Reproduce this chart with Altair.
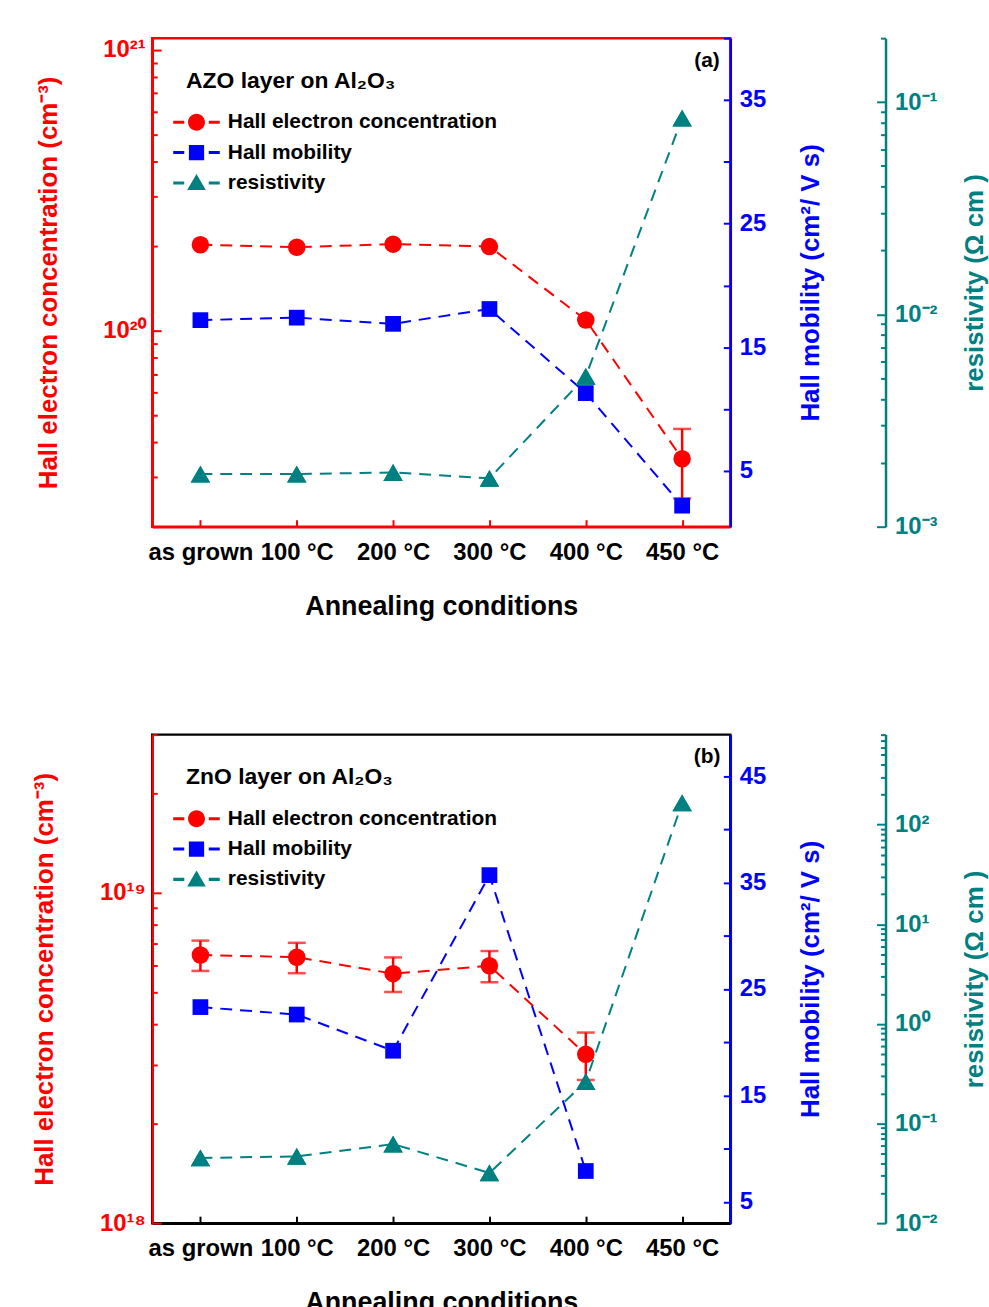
import math
import altair as alt
import pandas as pd

# ---------------- data ----------------
categories = ["as grown", "100 °C", "200 °C", "300 °C", "400 °C", "450 °C"]
series_names = ["Hall electron concentration", "Hall mobility", "resistivity"]

# panel (a): AZO layer on Al2O3
a_conc = [2.02e20, 1.98e20, 2.03e20, 1.99e20, 1.09e20, 3.49e19]
a_conc_err = [0.0, 0.0, 0.0, 0.0, 0.0, 0.97e19]
a_mob = [17.2, 17.4, 16.9, 18.1, 11.3, 2.2]
a_res = [1.77e-3, 1.77e-3, 1.80e-3, 1.69e-3, 5.1e-3, 8.4e-2]

# panel (b): ZnO layer on Al2O3
b_conc = [6.47e18, 6.37e18, 5.68e18, 6.00e18, 3.24e18, None]
b_conc_err = [0.68e18, 0.67e18, 0.68e18, 0.65e18, 0.53e18, None]
b_mob = [23.3, 22.6, 19.2, 35.7, 7.9, None]
b_res = [0.0451, 0.0468, 0.0622, 0.0319, 0.263, 165.0]

# axis ranges / tick labels
a_conc_domain, a_conc_decades = [2e19, 1.1e21], [19, 20, 21]
a_mob_domain, a_mob_ticks, a_mob_labels = [0.5, 40], [5, 10, 15, 20, 25, 30, 35, 40], [5, 15, 25, 35]
a_res_domain, a_res_decades = [1e-3, 0.2], [-3, -2, -1]

b_conc_domain, b_conc_decades = [1e18, 3e19], [18, 19]
b_mob_domain, b_mob_ticks, b_mob_labels = [3, 48.9], [5, 10, 15, 20, 25, 30, 35, 40, 45], [5, 15, 25, 35, 45]
b_res_domain, b_res_decades = [1e-2, 800], [-2, -1, 0, 1, 2]

# ---------------- style ----------------
RED, BLUE, TEAL = "#FF0000", "#0000FF", "#008080"
FONT = "Liberation Sans"
W, H = 581, 491
DASH = [12, 8]
SUP = str.maketrans("0123456789-", "⁰¹²³⁴⁵⁶⁷⁸⁹⁻")

# legend symbols: dash - marker - dash (units of marker radius)
LD = "M-2.75,-0.18H-1.45V0.18H-2.75Z M1.45,-0.18H2.75V0.18H1.45Z "
SYM_CIRCLE = LD + "M1,0A1,1 0 1,1 -1,0A1,1 0 1,1 1,0Z"
SYM_SQUARE = LD + "M-0.9,-0.9H0.9V0.9H-0.9Z"
SYM_TRI = LD + "M0,-1.05L1.1,0.85H-1.1Z"


def log_ticks(dom, decades):
    major, minor = [], []
    for e in decades:
        for m in range(1, 10):
            v = float(f"{m}e{e}")
            if dom[0] * 0.999999 <= v <= dom[1] * 1.000001:
                (major if m == 1 else minor).append(v)
    return major, minor


def pow_expr(values):
    expr = "''"
    for v in reversed(values):
        e = int(round(math.log10(v)))
        expr = f"datum.value == {repr(v)} ? '10{str(e).translate(SUP)}' : ({expr})"
    return expr


def main_axis(orient, color, title, values, label_expr=None, offset=0,
              label_padding=8, title_padding=10, label_size=24):
    args = dict(orient=orient, values=values, ticks=False, tickSize=0,
                domainColor=color, domainWidth=2.5, labelColor=color,
                titleColor=color, title=title, labelPadding=label_padding,
                titlePadding=title_padding, labelOverlap=False, grid=False,
                offset=offset, labelFontSize=label_size, titleFontSize=26,
                titleAngle=270)
    if label_expr:
        args["labelExpr"] = label_expr
    return alt.Axis(**args)


def tick_axis(orient, color, values, size, offset):
    return alt.Axis(orient=orient, values=values, domain=False, labels=False,
                    ticks=True, tickSize=size, tickWidth=2, tickColor=color,
                    offset=offset, title=None, grid=False)


def panel(tag, legend_title, conc, err, mob, res, conc_dom, conc_dec,
          mob_dom, mob_ticks, mob_labels, res_dom, res_dec, frame):
    df = pd.DataFrame({"cond": categories, "conc": conc, "err": err,
                       "mob": mob, "res": res})
    df["lo"] = df["conc"] - df["err"]
    df["hi"] = df["conc"] + df["err"]
    base = alt.Chart(df)
    xscale = alt.Scale(type="point", padding=0.5, domain=categories)

    x_main = alt.Axis(orient="bottom", title="Annealing conditions", labelAngle=0,
                      ticks=False, tickSize=0, domainColor=frame, domainWidth=2.5,
                      labelColor="black", labelFontSize=24, labelPadding=14,
                      titleFontSize=27, titleColor="black", titlePadding=29,
                      grid=False, labelOverlap=False)
    x_tick = tick_axis("bottom", frame, categories, 7, -7)

    def X(axis):
        return alt.X("cond:N", scale=xscale, axis=axis)

    # ---- red: concentration (left, log) ----
    c_major, c_minor = log_ticks(conc_dom, conc_dec)
    cs = alt.Scale(type="log", domain=conc_dom)
    red_line = base.mark_line(color=RED, strokeDash=DASH, strokeWidth=2).encode(
        x=X(x_main),
        y=alt.Y("conc:Q", scale=cs,
                axis=main_axis("left", RED, "Hall electron concentration (cm⁻³)",
                               c_major, pow_expr(c_major), label_padding=7,
                               title_padding=42)))
    red_rule = base.transform_filter("datum.err > 0").mark_rule(
        color=RED, strokeWidth=2.5).encode(
        x=X(None),
        y=alt.Y("lo:Q", scale=cs, axis=tick_axis("left", RED, c_minor, 5, -5)),
        y2="hi:Q")
    red_lo = base.transform_filter("datum.err > 0").mark_tick(
        color=RED, thickness=2.5, size=18).encode(
        x=X(None), y=alt.Y("lo:Q", scale=cs, axis=None))
    red_hi = base.transform_filter("datum.err > 0").mark_tick(
        color=RED, thickness=2.5, size=18).encode(
        x=X(None), y=alt.Y("hi:Q", scale=cs, axis=None))
    red_pts = base.mark_point(shape="circle", filled=True, size=310, color=RED,
                              opacity=1).encode(
        x=X(x_tick),
        y=alt.Y("conc:Q", scale=cs, axis=tick_axis("left", RED, c_major, 9, -9)))

    leg = alt.Legend(orient="none", legendX=34, legendY=32, title=legend_title,
                     padding=0, titlePadding=19, rowPadding=8.5, labelOffset=21,
                     titleFontSize=23, labelFontSize=21, titleColor="black",
                     labelColor="black", symbolSize=289, symbolOpacity=1,
                     symbolStrokeWidth=0, labelLimit=600, titleLimit=600)
    leg_df = pd.DataFrame({"series": series_names})
    legend_layer = alt.Chart(leg_df).transform_filter("false").mark_point(
        filled=True, size=289, opacity=1).encode(
        color=alt.Color("series:N", scale=alt.Scale(domain=series_names,
                                                    range=[RED, BLUE, TEAL]),
                        legend=leg),
        shape=alt.Shape("series:N", scale=alt.Scale(domain=series_names,
                                                    range=[SYM_CIRCLE, SYM_SQUARE, SYM_TRI]),
                        legend=leg))

    red_group = alt.layer(red_line, red_rule, red_lo, red_hi, red_pts,
                          legend_layer).resolve_axis(x="independent", y="independent")

    # ---- blue: mobility (right, linear) ----
    ms = alt.Scale(domain=mob_dom, nice=False, zero=False)
    blue_line = base.mark_line(color=BLUE, strokeDash=DASH, strokeWidth=2).encode(
        x=X(None),
        y=alt.Y("mob:Q", scale=ms,
                axis=main_axis("right", BLUE, "Hall mobility (cm²/ V s)",
                               mob_labels, label_padding=9, title_padding=58)))
    blue_pts = base.mark_point(shape="square", filled=True, size=250, color=BLUE,
                               opacity=1).encode(
        x=X(None),
        y=alt.Y("mob:Q", scale=ms, axis=tick_axis("right", BLUE, mob_ticks, 7, -7)))
    tag_df = pd.DataFrame({"cond": ["450 °C"], "tag": [tag]})
    tag_layer = alt.Chart(tag_df).mark_text(
        font=FONT, fontWeight="bold", fontSize=21, color="black", dx=25,
        align="center", baseline="middle").encode(
        x=X(None), y=alt.value(23), text="tag:N")
    blue_group = alt.layer(blue_line, blue_pts, tag_layer).resolve_axis(y="independent")

    # ---- teal: resistivity (right, offset, log) ----
    r_major, r_minor = log_ticks(res_dom, res_dec)
    rs = alt.Scale(type="log", domain=res_dom)
    teal_line = base.mark_line(color=TEAL, strokeDash=DASH, strokeWidth=2).encode(
        x=X(None),
        y=alt.Y("res:Q", scale=rs,
                axis=main_axis("right", TEAL, "resistivity (Ω cm )", r_major,
                               pow_expr(r_major), offset=156, label_padding=9,
                               title_padding=51)))
    teal_pts = base.mark_point(shape="triangle-up", filled=True, size=380,
                               color=TEAL, opacity=1).encode(
        x=X(None),
        y=alt.Y("res:Q", scale=rs, axis=tick_axis("right", TEAL, r_major, 9, 147)))
    teal_pts2 = base.mark_point(shape="triangle-up", filled=True, size=380,
                                color=TEAL, opacity=1).encode(
        x=X(None),
        y=alt.Y("res:Q", scale=rs, axis=tick_axis("right", TEAL, r_minor, 5, 151)))
    teal_group = alt.layer(teal_line, teal_pts, teal_pts2).resolve_axis(y="independent")

    return alt.layer(red_group, blue_group, teal_group).resolve_scale(
        y="independent").resolve_axis(x="independent", y="independent").properties(
        width=W, height=H,
        view=alt.ViewBackground(stroke=frame, strokeWidth=2.5))


pa = panel("(a)", "AZO layer on Al₂O₃", a_conc, a_conc_err, a_mob, a_res,
           a_conc_domain, a_conc_decades, a_mob_domain, a_mob_ticks, a_mob_labels,
           a_res_domain, a_res_decades, RED)
pb = panel("(b)", "ZnO layer on Al₂O₃", b_conc, b_conc_err, b_mob, b_res,
           b_conc_domain, b_conc_decades, b_mob_domain, b_mob_ticks, b_mob_labels,
           b_res_domain, b_res_decades, "black")

chart = alt.vconcat(pa, pb, spacing=111).resolve_scale(
    color="independent", shape="independent").properties(
    padding={"left": 30, "top": 32, "right": 0, "bottom": 0}
).configure_axis(
    labelFont=FONT, titleFont=FONT, labelFontWeight="bold", titleFontWeight="bold"
).configure_legend(
    labelFont=FONT, titleFont=FONT, labelFontWeight="bold", titleFontWeight="bold"
).configure_view(stroke=None)

chart.save("out.html", embed_options={"renderer": "svg", "actions": False})
